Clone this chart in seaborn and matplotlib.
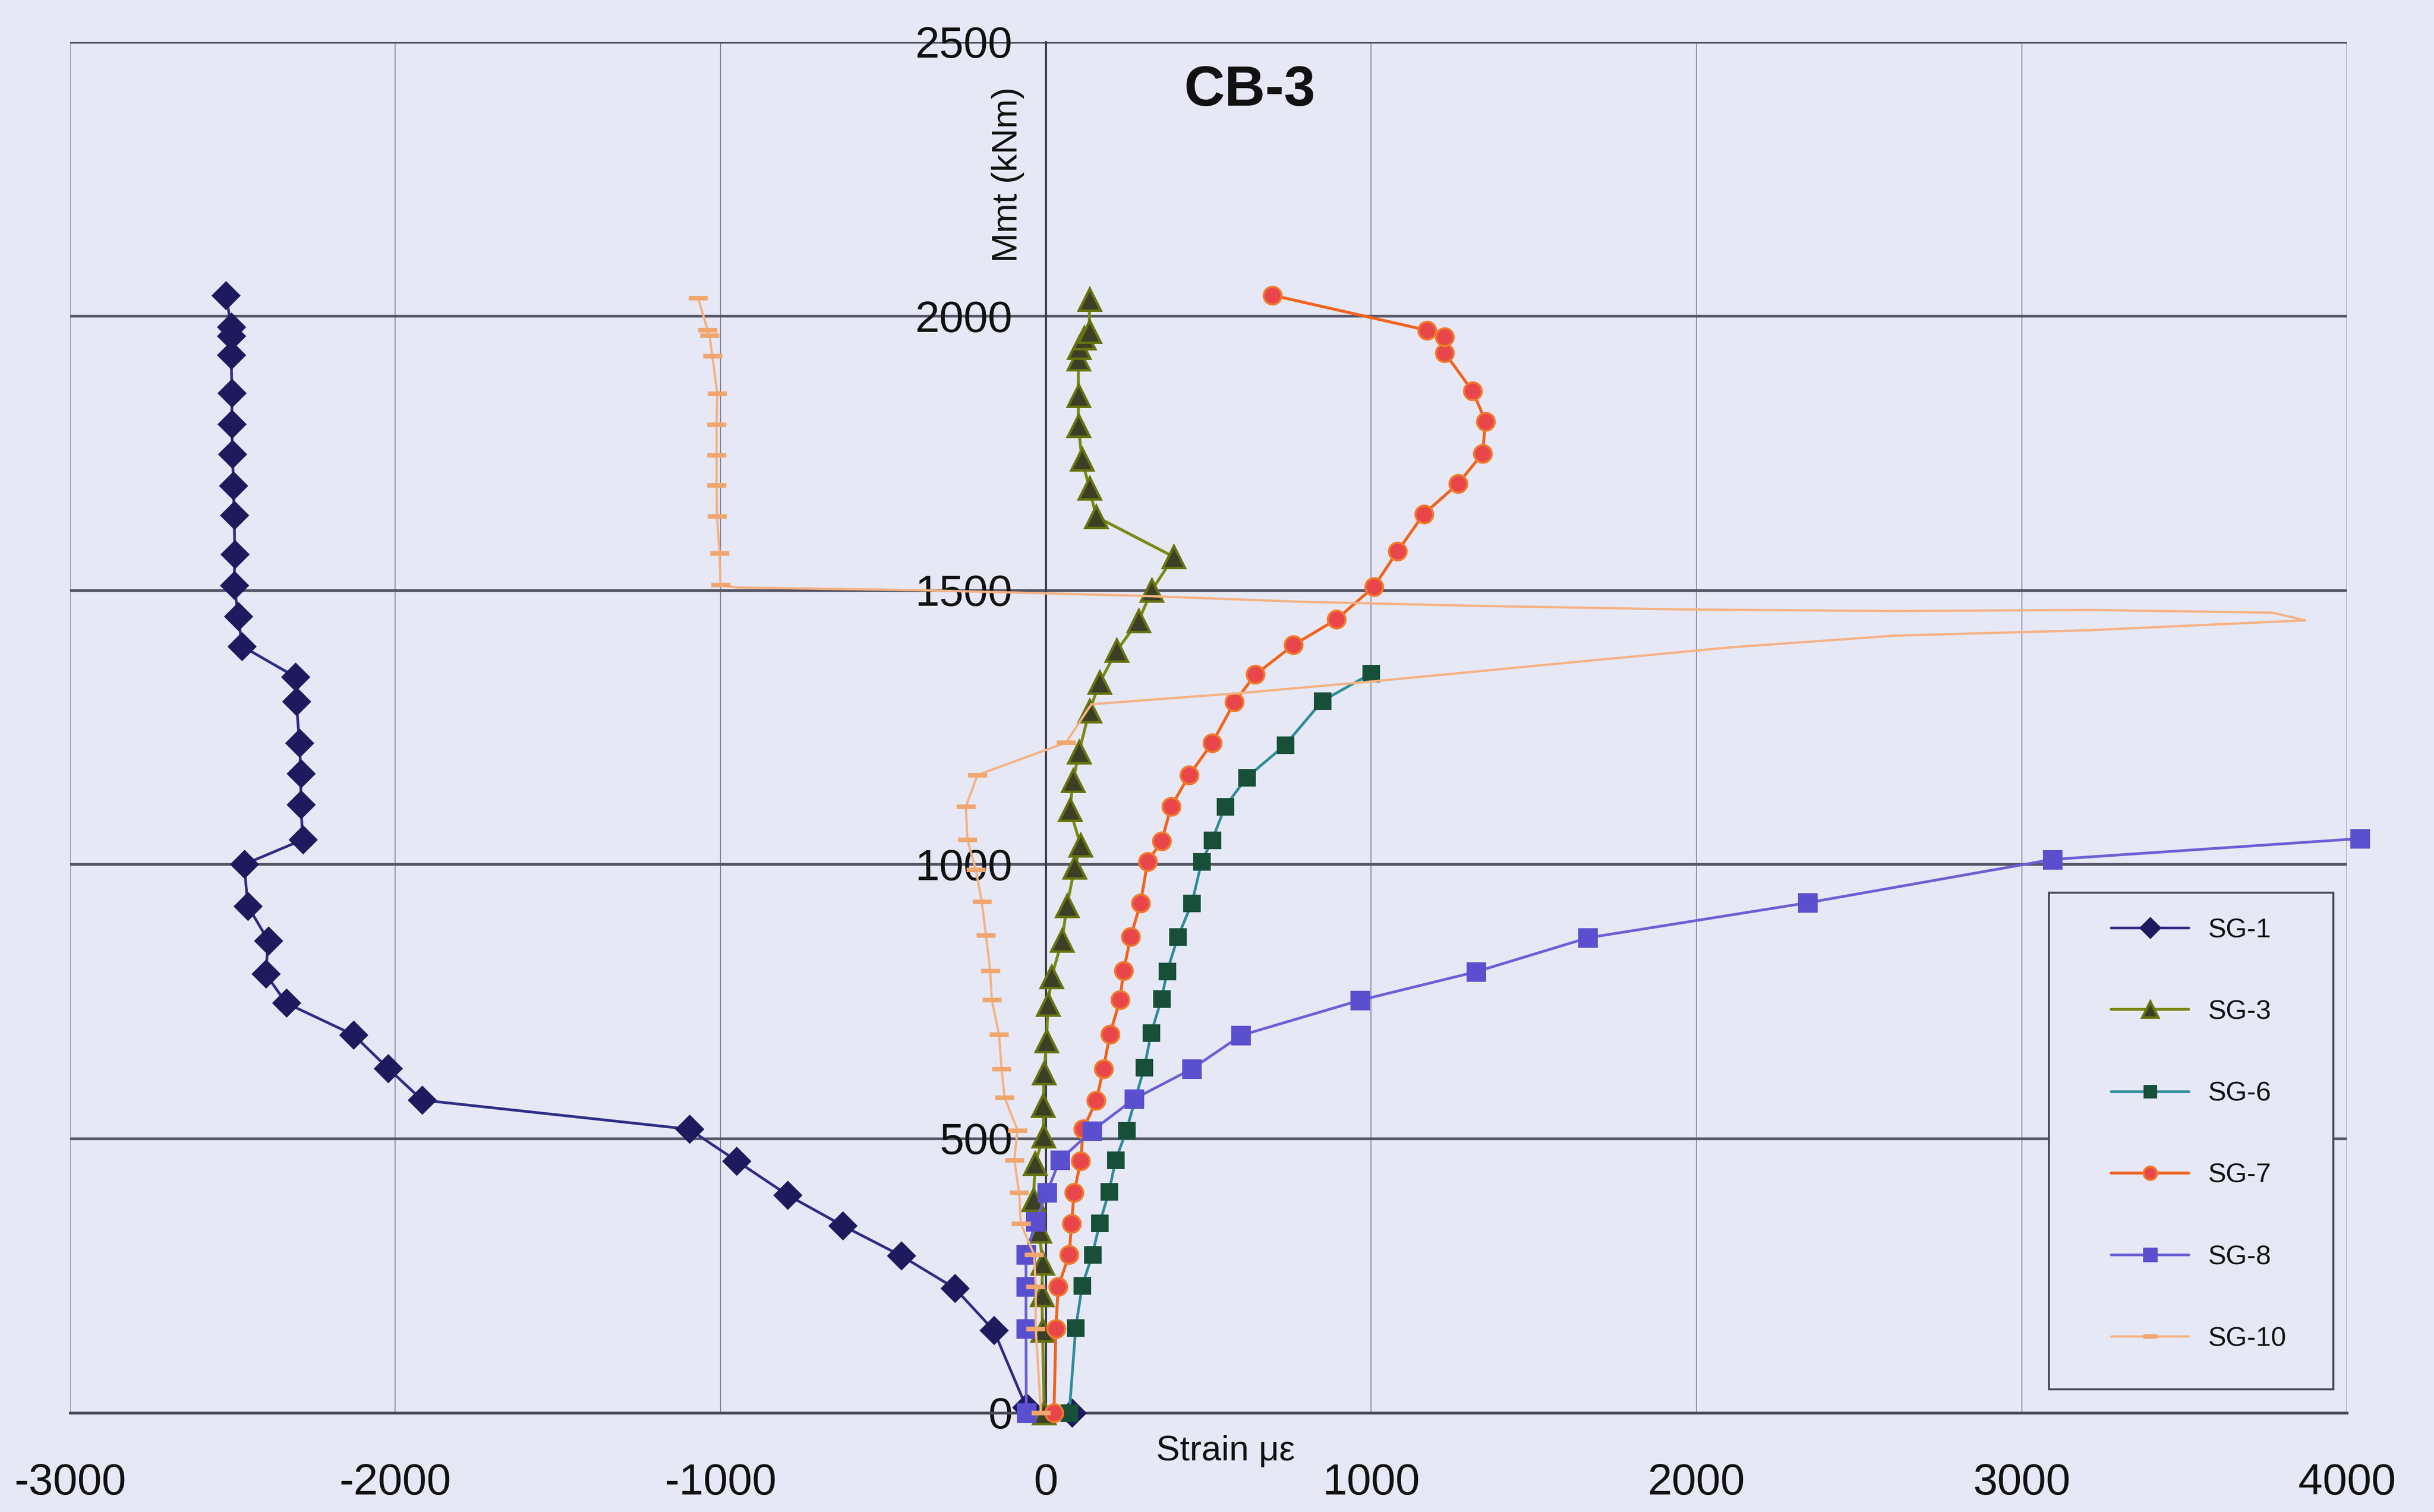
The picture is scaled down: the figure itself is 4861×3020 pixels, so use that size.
import matplotlib
matplotlib.use("Agg")
import matplotlib.pyplot as plt
from matplotlib.patches import Rectangle
import seaborn as sns
import pandas as pd
import numpy as np

# Strain gauge readings (micro-strain) against applied moment (kNm), beam CB-3
sg1_strain = [80, -60, -160, -280, -444, -624, -794, -950, -1096, -1917, -2022, -2128,
              -2335, -2398, -2390, -2453, -2464, -2284, -2290, -2290, -2294, -2304, -2307,
              -2471, -2482, -2495, -2493, -2495, -2497, -2500, -2502, -2502, -2504, -2504,
              -2504, -2520]
sg1_moment = [0, 10, 150, 227, 286, 341, 397, 459, 517, 570, 628, 689,
              747, 800, 861, 924, 1000, 1045, 1109, 1166, 1221, 1297, 1342,
              1398, 1452, 1509, 1566, 1637, 1691, 1748, 1803, 1860, 1929, 1964,
              1980, 2038]

sg3_strain = [-5, -10, -12, -10, -20, -38, -33, -7, -8, -5, 2, 7, 18, 50, 65, 89, 107,
              74, 84, 102, 134, 166, 218, 285, 326, 393, 155, 134, 111, 100, 100, 100,
              102, 118, 134, 134]
sg3_moment = [0, 150, 215, 273, 331, 389, 454, 505, 560, 620, 678, 745, 795, 862, 925,
              995, 1035, 1100, 1153, 1205, 1280, 1332, 1390, 1444, 1500, 1561, 1634,
              1686, 1739, 1800, 1855, 1922, 1943, 1960, 1972, 2030]

sg6_strain = [72, 92, 112, 143, 166, 194, 215, 248, 275, 303, 324, 356, 373, 406, 449,
              479, 511, 551, 617, 736, 850, 1000]
sg6_moment = [0, 155, 232, 288, 346, 403, 461, 515, 572, 630, 693, 755, 805, 868, 929,
              1005, 1044, 1105, 1158, 1218, 1298, 1348]

sg7_strain = [25, 31, 38, 72, 79, 87, 107, 115, 155, 177, 197, 228, 239, 261, 291, 313,
              356, 385, 441, 511, 580, 644, 761, 894, 1008, 1081, 1162, 1267, 1342, 1352,
              1312, 1226, 1226, 1172, 696]
sg7_moment = [0, 153, 230, 288, 345, 401, 459, 517, 569, 627, 690, 753, 806, 868, 929,
              1005, 1042, 1105, 1163, 1221, 1296, 1346, 1400, 1447, 1506, 1571, 1639,
              1694, 1749, 1808, 1863, 1933, 1962, 1974, 2038]

sg8_strain = [-60, -61, -61, -61, -31, 3, 43, 142, 271, 449, 600, 965, 1322, 1666, 2342,
              3095, 4040]
sg8_moment = [0, 153, 230, 288, 348, 401, 461, 514, 572, 627, 688, 752, 804, 866, 930,
              1009, 1047]

sg10_strain = [-15, -31, -31, -36, -77, -82, -97, -87, -127, -136, -144, -166, -171, -184,
               -197, -215, -241, -246, -210, 62, 140, 611, 1011, 1609, 2109, 2608, 3206,
               3871, 3771, 3206, 2608, 1942, 1276, 778, 279, -387, -952, -1000, -1003,
               -1011, -1012, -1012, -1012, -1010, -1025, -1034, -1040, -1069]
sg10_moment = [0, 153, 230, 288, 345, 401, 461, 515, 575, 627, 690, 753, 806, 871, 932,
               990, 1045, 1105, 1163, 1222, 1292, 1313, 1334, 1368, 1396, 1417, 1427,
               1445, 1459, 1464, 1462, 1465, 1472, 1479, 1490, 1500, 1505, 1510, 1567,
               1635, 1692, 1746, 1802, 1859, 1927, 1965, 1975, 2033]

x_ticks = [-3000, -2000, -1000, 0, 1000, 2000, 3000, 4000]
y_ticks = [0, 500, 1000, 1500, 2000, 2500]

BG = "#e7e8f6"

sns.set_style("white")
plt.rcParams["font.family"] = ["Liberation Sans", "DejaVu Sans"]

fig = plt.figure(figsize=(4861 / 300, 3020 / 300), dpi=300, facecolor=BG)
ax = fig.add_axes([0.0287, 0.0657, 0.9356, 0.9066])
ax.set_facecolor(BG)

series = [
    ("SG-1", sg1_strain, sg1_moment,
     dict(color="#2e2d86", marker="D", markersize=9, markerfacecolor="#1d1b5e",
          markeredgecolor="#1d1b5e", linewidth=1.3)),
    ("SG-3", sg3_strain, sg3_moment,
     dict(color="#7a8a16", marker="^", markersize=10.5, markerfacecolor="#3c3e26",
          markeredgecolor="#66740f", markeredgewidth=1.2, linewidth=1.4)),
    ("SG-6", sg6_strain, sg6_moment,
     dict(color="#2f8c9a", marker="s", markersize=7.5, markerfacecolor="#174f38",
          markeredgecolor="#174f38", linewidth=1.3)),
    ("SG-7", sg7_strain, sg7_moment,
     dict(color="#f0641e", marker="o", markersize=8.5, markerfacecolor="#e8464a",
          markeredgecolor="#f27a2a", markeredgewidth=1.0, linewidth=1.4)),
    ("SG-8", sg8_strain, sg8_moment,
     dict(color="#6a60d6", marker="s", markersize=8.5, markerfacecolor="#5a50cf",
          markeredgecolor="#5a50cf", linewidth=1.3)),
    ("SG-10", sg10_strain, sg10_moment,
     dict(color="#f4b283", marker="_", markersize=9, markeredgewidth=2.2,
          markeredgecolor="#f0a66e", linewidth=1.1,
          markevery=[i for i in range(len(sg10_strain)) if i < 20 or i >= 37])),
]

for name, xs, ys, style in series:
    df = pd.DataFrame({"strain": xs, "moment": ys})
    sns.lineplot(data=df, x="strain", y="moment", sort=False, estimator=None,
                 ax=ax, label=name, clip_on=False, zorder=3, **style)

ax.set_xlim(-3000, 4000)
ax.set_ylim(0, 2500)
ax.set_xticks(x_ticks)
ax.set_yticks(y_ticks)
ax.set_xticklabels([str(v) for v in x_ticks])
ax.set_yticklabels([str(v) for v in y_ticks])
ax.tick_params(axis="both", length=0, labelsize=21, colors="#111111")
ax.tick_params(axis="x", pad=24)
ax.tick_params(axis="y", pad=16)

# Gridlines: strong horizontal, faint vertical
ax.yaxis.grid(True, color="#555565", linewidth=1.3, zorder=0)
ax.xaxis.grid(True, color="#8c8c9c", linewidth=0.5, zorder=0)
ax.set_axisbelow(True)

for side in ["top", "right"]:
    ax.spines[side].set_visible(False)
ax.spines["left"].set_position(("data", 0))
ax.spines["left"].set_color("#3a3a48")
ax.spines["left"].set_linewidth(1.0)
ax.spines["bottom"].set_color("#4a4a5a")
ax.spines["bottom"].set_linewidth(1.3)

ax.set_xlabel("")
ax.set_ylabel("")
ax.text(0.477, -0.028, "Strain \u03bc\u03b5", transform=ax.transAxes, ha="left",
        va="center", fontsize=17, color="#111111")
ax.text(0.412, 0.903, "Mmt (kNm)", transform=ax.transAxes, ha="center",
        va="center", rotation=90, fontsize=17, color="#111111")
ax.text(0.518, 0.964, "CB-3", transform=ax.transAxes, ha="center", va="center",
        fontsize=27, fontweight="bold", color="#111111")

# Legend box drawn separately so the entries can sit inset from its frame
ax.add_patch(Rectangle((0.869, 0.017), 0.125, 0.3624, transform=ax.transAxes,
                       facecolor=BG, edgecolor="#4a4a58", linewidth=1.0,
                       zorder=4, clip_on=False))
leg = ax.legend(loc="upper left", bbox_to_anchor=(0.8964, 0.361),
                borderaxespad=0.0, borderpad=0.0, fontsize=13, frameon=False,
                handlelength=2.86, handletextpad=0.7, labelspacing=2.09,
                markerscale=0.75)
leg.set_zorder(5)
for t in leg.get_texts():
    t.set_color("#111111")

fig.savefig("out.png", dpi=300, facecolor=BG)
